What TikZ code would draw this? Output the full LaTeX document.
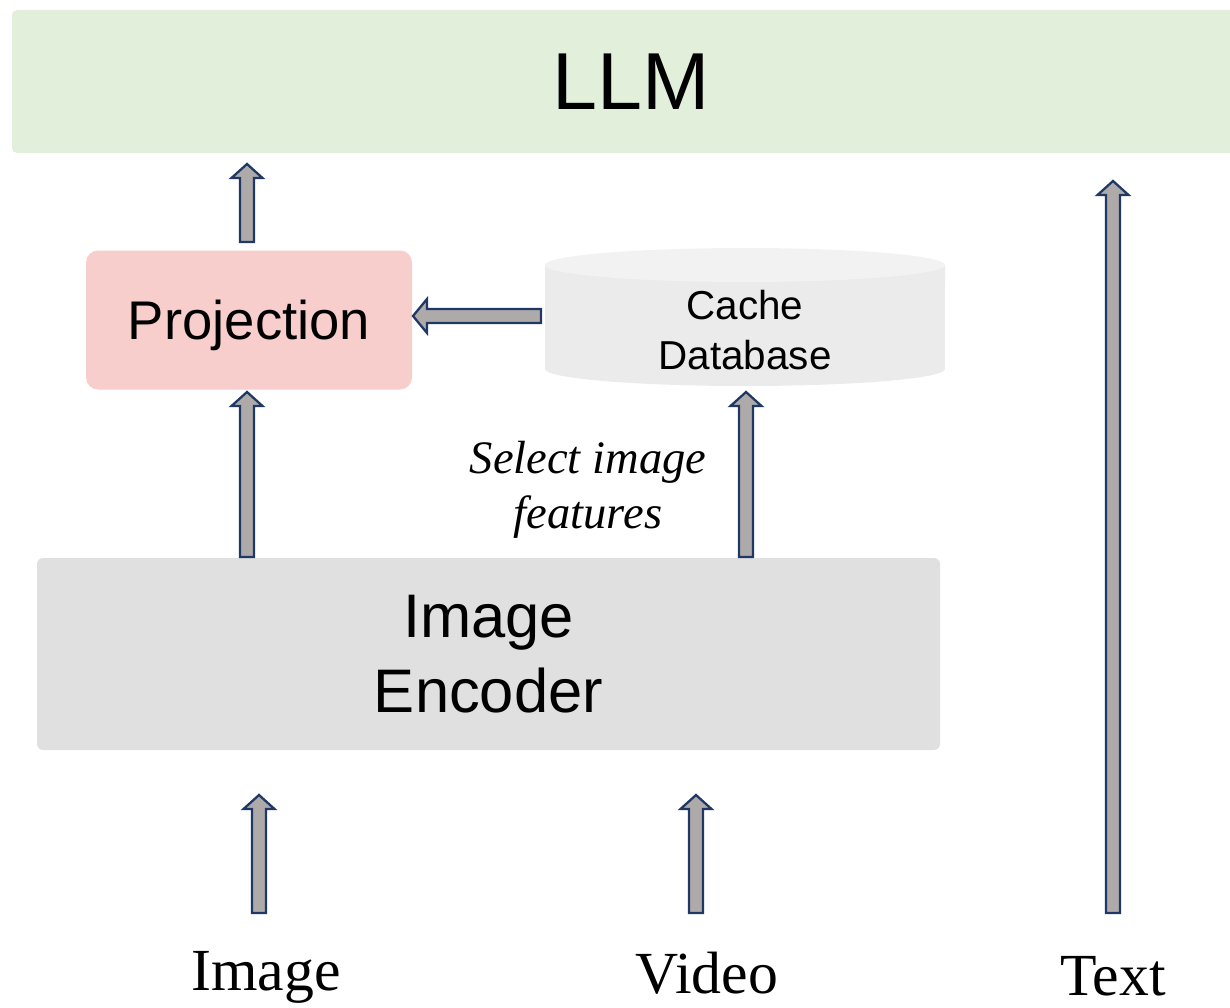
\documentclass[tikz,border=0pt]{standalone}
\usepackage{fontspec}
\setmainfont{Liberation Sans}
\newfontfamily\serifface{Liberation Serif}
\usetikzlibrary{calc}

\definecolor{llmgreen}{RGB}{226,239,218}
\definecolor{projpink}{RGB}{248,206,204}
\definecolor{encgray}{RGB}{224,224,224}
\definecolor{cachebody}{RGB}{235,235,235}
\definecolor{cachetop}{RGB}{242,242,242}
\definecolor{arrowfill}{RGB}{174,170,170}
\definecolor{arrowedge}{RGB}{32,56,100}

\newlength\pxu
\setlength\pxu{0.02cm}

\tikzset{
  panel/.style={rectangle, inner sep=0pt, align=center},
  blockarrow/.style={draw=arrowedge, fill=arrowfill, line width=1.3pt},
  caption/.style={font=\serifface\fontsize{34}{40}\selectfont, anchor=base, inner sep=0pt},
}

% block arrow pointing up: tail #1, tip #2
\newcommand\blockup[2]{%
  \draw[blockarrow] ($(#1)+(-7,0)$) -- ($(#2)+(-7,14)$) -- ($(#2)+(-15.5,14)$)
    -- (#2) -- ($(#2)+(15.5,14)$) -- ($(#2)+(7,14)$) -- ($(#1)+(7,0)$) -- cycle;}
% block arrow pointing left: tail #1, tip #2
\newcommand\blockleft[2]{%
  \draw[blockarrow] ($(#1)+(0,-7)$) -- ($(#2)+(14,-7)$) -- ($(#2)+(14,-17)$)
    -- (#2) -- ($(#2)+(14,17)$) -- ($(#2)+(14,7)$) -- ($(#1)+(0,7)$) -- cycle;}

\begin{document}
\begin{tikzpicture}[x=0.02cm, y=-0.02cm]
\useasboundingbox (0,0) rectangle (1230,1007);
\clip (0,0) rectangle (1230,1007);

% LLM band across the top
\node[panel, fill=llmgreen, rounded corners=5\pxu, minimum width=1238*\pxu, minimum height=143*\pxu,
      font=\fontsize{46}{55}\selectfont] (llm) at (631,81.5) {LLM};

% projection block
\node[panel, fill=projpink, rounded corners=12\pxu, minimum width=326*\pxu, minimum height=139*\pxu,
      text depth=0pt, font=\fontsize{31}{37}\selectfont] (proj) at (249,320) {Projection};

% cache database cylinder
\node[panel, minimum width=400*\pxu, minimum height=139*\pxu] (cache) at (745,317) {};
\fill[cachebody] (545,265) -- (545,369) arc[start angle=180, end angle=360, x radius=4cm, y radius=0.34cm]
  -- (945,265) -- cycle;
\fill[cachetop] (745,265) ellipse[x radius=4cm, y radius=0.34cm];
\node[align=center, inner sep=0pt, font=\fontsize{23}{28}\selectfont] (cachetext) at (745,330) {Cache\\Database};

% image encoder block
\node[panel, fill=encgray, rounded corners=6\pxu, minimum width=903*\pxu, minimum height=192*\pxu,
      font=\fontsize{35}{42.5}\selectfont] (enc) at (488.5,654) {Image\\Encoder};

% annotation between encoder and cache
\node[fill=white, inner sep=4pt, align=center, font=\serifface\itshape\fontsize{26.5}{31}\selectfont]
  (select) at (588,490) {Select image\\features};

% input captions
\node[caption] (img) at (266,990) {Image};
\node[caption] (vid) at (707,993) {Video};
\node[caption] (txt) at (1113,995) {Text};

% arrow end points
\coordinate (projtop) at (247,242);
\coordinate (llmin) at (247,164);
\coordinate (encleft) at (247,557);
\coordinate (projbot) at (247,392);
\coordinate (cacheout) at (541,316);
\coordinate (projin) at (413,316);
\coordinate (encright) at (746,557);
\coordinate (cachein) at (746,392);
\coordinate (imgout) at (259,913);
\coordinate (encin1) at (259,795);
\coordinate (vidout) at (696,913);
\coordinate (encin2) at (696,795);
\coordinate (txtout) at (1113,913);
\coordinate (llmtxt) at (1113,181);

\blockup{projtop}{llmin}
\blockup{encleft}{projbot}
\blockleft{cacheout}{projin}
\blockup{encright}{cachein}
\blockup{imgout}{encin1}
\blockup{vidout}{encin2}
\blockup{txtout}{llmtxt}
\end{tikzpicture}
\end{document}
